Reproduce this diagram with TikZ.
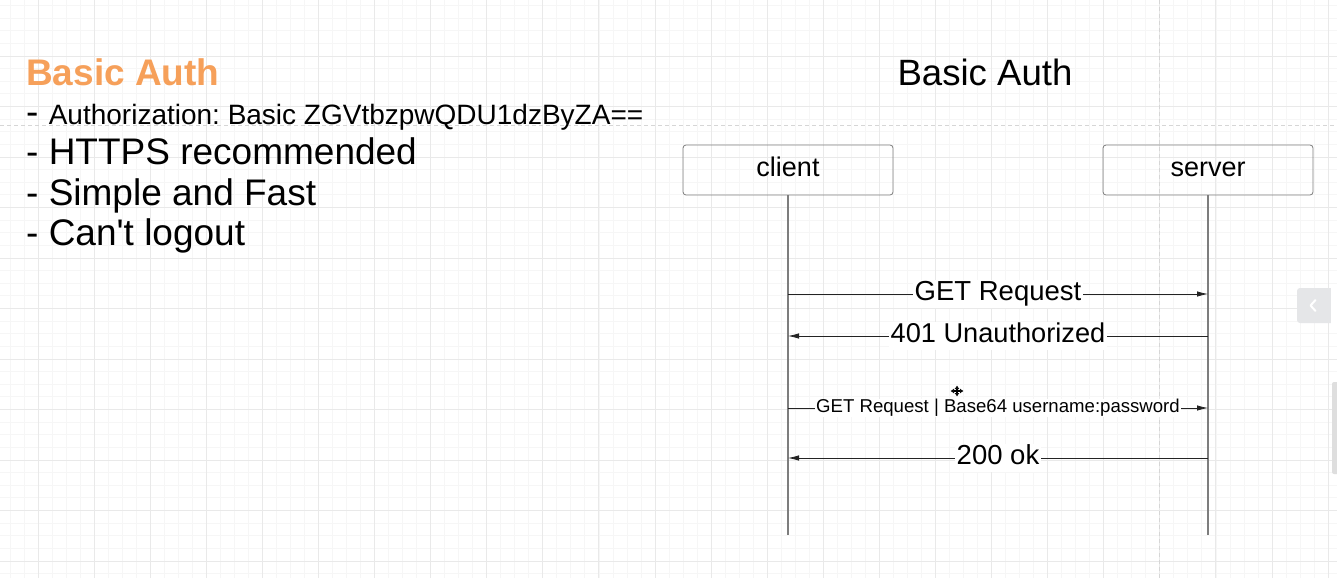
\documentclass[tikz,border=0pt]{standalone}
\usepackage{fontspec}
\setmainfont{Liberation Sans}[Ligatures=TeXOff]
\usetikzlibrary{arrows.meta}
\definecolor{orangeT}{RGB}{246,160,90}
\definecolor{gridminor}{RGB}{246,246,246}
\definecolor{gridmajor}{RGB}{233,233,233}
\definecolor{dashgray}{RGB}{214,214,214}
\definecolor{boxborder}{RGB}{125,125,125}
\definecolor{lifegray}{RGB}{125,125,125}
\definecolor{arrowcol}{RGB}{35,35,35}
\definecolor{panelgray}{RGB}{229,230,232}
\definecolor{scrollgray}{RGB}{222,222,222}
\newcommand{\myfs}[1]{\fontsize{#1}{#1}\selectfont}
\frenchspacing
\begin{document}
\begin{tikzpicture}[x=1pt,y=-1pt,
  minorgrid/.style={draw=gridminor, line width=0.8pt},
  majorgrid/.style={draw=gridmajor, line width=0.9pt},
  guide/.style={draw=dashgray, line width=0.9pt, dash pattern=on 4pt off 3pt},
  actor/.style={draw=boxborder, line width=0.8pt, rounded corners=3pt, minimum width=210pt, minimum height=50pt, inner sep=0pt, text height=19pt, text depth=7pt, font=\myfs{27}},
  lifeline/.style={draw=lifegray, line width=1.1pt},
  msg/.style={draw=arrowcol, line width=0.8pt, -{Latex[length=11pt,width=5.5pt]}},
  msglabel/.style={fill=white, inner xsep=1.5pt, inner ysep=0pt, text=black},
  biglabel/.style={msglabel, font=\myfs{27.5}, text height=20.6pt, text depth=6.9pt},
  smalllabel/.style={msglabel, font=\myfs{18.6}, text height=13.8pt, text depth=4.6pt},
  listline/.style={anchor=base west, inner sep=0pt, font=\myfs{37}},
]
\useasboundingbox (0,0) rectangle (1337,578);
\fill[white] (0,0) rectangle (1337,578);
% grid
\foreach \i in {-2,...,93} \draw[minorgrid] ({38+\i*14.0225},0) -- ({38+\i*14.0225},578);
\foreach \i in {-20,...,25} \draw[minorgrid] (0,{258+\i*12.625}) -- (1337,{258+\i*12.625});
\foreach \i in {0,...,23} \draw[majorgrid] ({38+\i*56.09},0) -- ({38+\i*56.09},578);
\foreach \i in {-4,...,6} \draw[majorgrid] (0,{258+\i*50.5}) -- (1337,{258+\i*50.5});
\draw[guide] (0,125) -- (1337,125);
\draw[guide] (1159.5,0) -- (1159.5,578);

% left text
\node[listline, text=orangeT, font=\myfs{37}\bfseries] (ltitle) at (26,85) {Basic Auth};
\node[listline] (l1) at (26,124) {- {\myfs{28}Authorization: Basic ZGVtbzpwQDU1dzByZA==}};
\node[listline] (l2) at (26,164.5) {- HTTPS recommended};
\node[listline] (l3) at (26,205) {- Simple and Fast};
\node[listline] (l4) at (26,245) {- Can't logout};

% right title
\node[anchor=base, inner sep=0pt, font=\myfs{36.6}] (rtitle) at (985,85) {Basic Auth};

% actors
\node[actor] (cbox) at (788,170) {client};
\node[actor] (sbox) at (1208,170) {server};
\coordinate (cend) at (788,535);
\coordinate (send) at (1208,535);
\draw[lifeline] (cbox.south) -- (cend);
\draw[lifeline] (sbox.south) -- (send);

% messages
\coordinate (c1) at (788,294); \coordinate (s1) at (1208,294);
\coordinate (c2) at (788,336); \coordinate (s2) at (1208,336);
\coordinate (c3) at (788,408); \coordinate (s3) at (1208,408);
\coordinate (c4) at (788,458); \coordinate (s4) at (1208,458);
\draw[msg] (c1) -- node[biglabel] (m1) {GET Request} (s1);
\draw[msg] (s2) -- node[biglabel, font=\myfs{27.2}] (m2) {401 Unauthorized} (c2);
\draw[msg] (c3) -- node[smalllabel] (m3) {GET Request | Base64 username:password} (s3);
\draw[msg] (s4) -- node[biglabel] (m4) {200 ok} (c4);

% move cursor
\coordinate (cur) at (957,391);
\foreach \d in {(6.5,0),(-6.5,0),(0,5.5),(0,-5.5)}
  \draw[line width=1.5pt, -{Latex[length=3.5pt,width=5pt]}] (cur) -- ++\d;

% side panel button and scrollbar
\fill[panelgray, rounded corners=3pt] (1297,288) rectangle (1336,323);
\fill[white] (1330.5,286) rectangle (1337,325);
\coordinate (chev) at (1313,305.5);
\draw[white, line width=2pt, line cap=round, line join=round] ([xshift=2.5pt,yshift=-5.5pt]chev) -- ([xshift=-2.5pt]chev) -- ([xshift=2.5pt,yshift=5.5pt]chev);
\fill[scrollgray, rounded corners=2pt] (1332,382) rectangle (1339,474);
\end{tikzpicture}
\end{document}
